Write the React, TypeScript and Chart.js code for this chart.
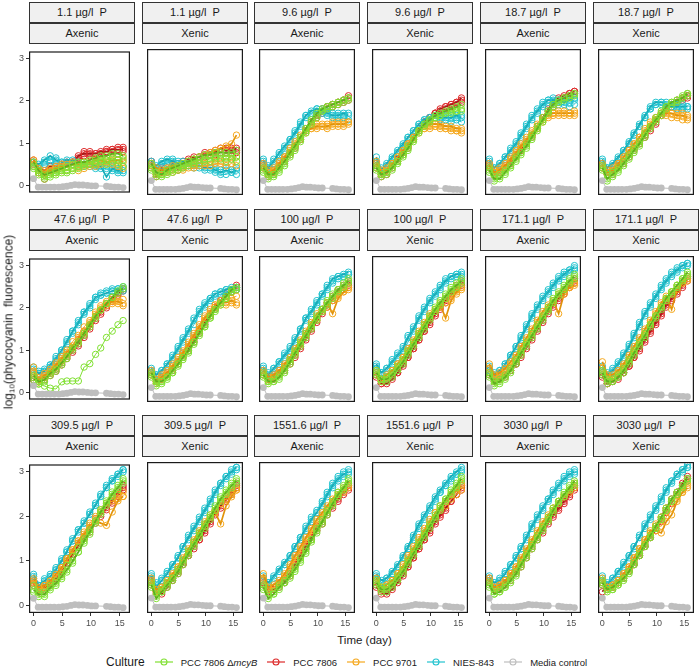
import { useEffect, useRef } from 'react';
import Chart from 'chart.js/auto';

// sampling days of the culture series, and of the media control
const days = [0, 0.9, 1.9, 2.9, 3.9, 4.9, 5.8, 6.8, 7.8, 8.8, 9.8, 10.8, 11.7, 12.7, 13.7, 14.7, 15.6];
const mediaDays = [0, 0.8, 1.5, 2.2, 2.9, 3.6, 4.4, 5.1, 5.8, 6.5, 7.2, 7.9, 8.6, 9.4, 10.1, 10.8, 12.7, 13.4, 14.1, 14.8, 15.6];
const mediaValues = [0.16, -0.04, -0.04, -0.04, -0.04, -0.04, -0.04, -0.03, -0.02, 0.0, 0.02, 0.01, 0.01, 0.0, -0.01, -0.01, -0.02, -0.03, -0.04, -0.04, -0.05];

const tickDays = [0, 5, 10, 15];
const tickLogs = [0, 1, 2, 3];

const phosphorus = ['1.1', '1.1', '9.6', '9.6', '18.7', '18.7', '47.6', '47.6', '100', '100', '171.1', '171.1', '309.5', '309.5', '1551.6', '1551.6', '3030', '3030'];
const treatment = ['Axenic', 'Xenic'];

const cultures = ['PCC 7806 ΔmcyB', 'PCC 7806', 'PCC 9701', 'NIES-843', 'Media control'];
const cultureColors = ['#80E032', '#DD2A2A', '#F5A81E', '#23C3CF', '#BEBEBE'];
const cultureDark = ['#5CB01E', '#A81818', '#E0920A', '#17A9B5', '#BEBEBE'];

// replicate series per panel (green = ΔmcyB, red = PCC 7806, orange = PCC 9701, cyan = NIES-843)
const p01Green = [[0.55,0.35,0.25,0.3,0.35,0.4,0.45,0.5,0.55,0.55,0.6,0.65,0.7,0.7,0.75,0.75,0.7],[0.45,0.3,0.2,0.25,0.3,0.35,0.35,0.4,0.45,0.5,0.5,0.55,0.6,0.6,0.65,0.6,0.6],[0.4,0.25,0.15,0.2,0.25,0.3,0.3,0.35,0.4,0.45,0.5,0.5,0.55,0.5,0.55,0.5,0.45]];
const p01Red = [[0.6,0.4,0.35,0.45,0.45,0.5,0.5,0.55,0.7,0.75,0.75,0.75,0.8,0.8,0.85,0.85,0.85],[0.55,0.3,0.15,0.35,0.4,0.45,0.5,0.55,0.65,0.8,0.8,0.75,0.75,0.85,0.85,0.9,0.9],[0.5,0.35,0.3,0.4,0.45,0.5,0.55,0.55,0.6,0.7,0.7,0.7,0.75,0.8,0.8,0.75,0.8]];
const p01Orange = [[0.6,0.4,0.3,0.35,0.4,0.45,0.45,0.5,0.5,0.55,0.55,0.6,0.6,0.55,0.6,0.6,0.55],[0.5,0.35,0.25,0.3,0.3,0.35,0.35,0.4,0.35,0.4,0.45,0.45,0.5,0.5,0.5,0.45,0.4],[0.45,0.3,0.35,0.4,0.45,0.5,0.5,0.55,0.45,0.5,0.5,0.5,0.55,0.6,0.65,0.6,0.65]];
const p01Cyan = [[0.55,0.5,0.6,0.7,0.6,0.55,0.6,0.6,0.55,0.5,0.5,0.45,0.45,0.2,0.4,0.35,0.35],[0.5,0.45,0.55,0.6,0.65,0.55,0.5,0.55,0.5,0.45,0.45,0.4,0.4,0.4,0.35,0.3,0.3],[0.45,0.4,0.5,0.55,0.5,0.5,0.55,0.5,0.45,0.5,0.5,0.5,0.5,0.45,0.45,0.4,0.45]];

const p02Green = [[0.55,0.35,0.3,0.4,0.45,0.5,0.55,0.6,0.65,0.7,0.75,0.75,0.8,0.8,0.8,0.8,0.85],[0.45,0.3,0.25,0.35,0.4,0.45,0.5,0.55,0.6,0.65,0.65,0.7,0.7,0.75,0.7,0.75,0.7],[0.4,0.25,0.3,0.3,0.35,0.4,0.45,0.5,0.55,0.55,0.6,0.6,0.65,0.65,0.6,0.65,0.6]];
const p02Red = [[0.6,0.25,0.45,0.35,0.55,0.4,0.6,0.65,0.7,0.7,0.75,0.8,0.8,0.9,0.85,0.85,0.9],[0.55,0.3,0.35,0.45,0.45,0.5,0.55,0.6,0.65,0.7,0.8,0.75,0.85,0.8,0.9,0.9,0.85],[0.5,0.35,0.4,0.4,0.5,0.55,0.5,0.6,0.6,0.65,0.7,0.75,0.75,0.8,0.8,0.8,0.8]];
const p02Orange = [[0.55,0.45,0.4,0.45,0.5,0.5,0.55,0.6,0.65,0.7,0.75,0.8,0.85,0.9,0.95,1.0,1.2],[0.5,0.35,0.35,0.4,0.4,0.45,0.45,0.5,0.5,0.55,0.55,0.6,0.6,0.6,0.65,0.65,0.7],[0.45,0.3,0.3,0.35,0.35,0.4,0.4,0.45,0.45,0.5,0.5,0.5,0.55,0.55,0.5,0.55,0.5]];
const p02Cyan = [[0.6,0.5,0.6,0.65,0.6,0.55,0.6,0.55,0.5,0.5,0.45,0.45,0.4,0.35,0.4,0.35,0.4],[0.5,0.45,0.55,0.55,0.65,0.6,0.55,0.5,0.55,0.45,0.4,0.4,0.35,0.3,0.3,0.35,0.3],[0.55,0.4,0.5,0.6,0.55,0.5,0.5,0.5,0.45,0.5,0.5,0.45,0.45,0.4,0.45,0.4,0.45]];

const p03Green = [[0.45,0.3,0.3,0.45,0.6,0.8,0.95,1.15,1.35,1.55,1.7,1.8,1.85,1.9,1.95,2.0,2.05],[0.35,0.2,0.25,0.35,0.5,0.7,0.9,1.1,1.3,1.5,1.65,1.75,1.85,1.9,1.95,2.0,2.05],[0.4,0.25,0.3,0.4,0.55,0.75,0.85,1.05,1.25,1.45,1.6,1.75,1.8,1.85,1.9,1.95,2.0]];
const p03Red = [[0.5,0.3,0.35,0.5,0.65,0.8,0.95,1.15,1.35,1.5,1.65,1.75,1.85,1.9,1.95,2.0,2.05],[0.45,0.25,0.3,0.45,0.6,0.75,0.9,1.1,1.3,1.5,1.65,1.8,1.85,1.9,1.95,2.0,2.1],[0.55,0.35,0.4,0.5,0.6,0.8,0.95,1.1,1.3,1.45,1.6,1.7,1.8,1.85,1.9,1.95,2.0]];
const p03Orange = [[0.5,0.35,0.4,0.55,0.7,0.85,1.0,1.15,1.3,1.35,1.4,1.4,1.4,1.45,1.45,1.45,1.5],[0.45,0.3,0.35,0.5,0.65,0.8,0.95,1.1,1.25,1.35,1.35,1.4,1.35,1.4,1.4,1.4,1.45],[0.55,0.4,0.45,0.6,0.7,0.9,1.05,1.2,1.35,1.4,1.45,1.45,1.45,1.5,1.5,1.5,1.5]];
const p03Cyan = [[0.6,0.45,0.6,0.8,0.95,1.1,1.25,1.45,1.65,1.75,1.8,1.75,1.7,1.65,1.65,1.7,1.65],[0.55,0.4,0.55,0.7,0.85,1.05,1.2,1.4,1.6,1.7,1.75,1.7,1.65,1.6,1.6,1.6,1.55],[0.65,0.5,0.65,0.75,0.9,1.1,1.3,1.5,1.65,1.7,1.8,1.8,1.75,1.7,1.7,1.65,1.7]];

const p04Green = [[0.45,0.3,0.35,0.45,0.6,0.75,0.9,1.1,1.3,1.45,1.55,1.65,1.7,1.75,1.8,1.85,1.9],[0.4,0.25,0.3,0.4,0.55,0.7,0.85,1.05,1.25,1.4,1.5,1.6,1.65,1.7,1.75,1.75,1.8],[0.5,0.3,0.35,0.5,0.6,0.75,0.95,1.1,1.3,1.45,1.55,1.6,1.65,1.7,1.7,1.75,1.75]];
const p04Red = [[0.5,0.3,0.35,0.5,0.65,0.8,0.95,1.15,1.35,1.5,1.6,1.7,1.8,1.85,1.9,1.95,2.05],[0.45,0.25,0.3,0.45,0.6,0.75,0.9,1.1,1.3,1.45,1.6,1.7,1.75,1.85,1.9,1.95,2.0],[0.55,0.35,0.4,0.5,0.65,0.8,1.0,1.15,1.35,1.5,1.6,1.7,1.75,1.8,1.85,1.9,1.95]];
const p04Orange = [[0.55,0.35,0.4,0.55,0.7,0.85,1.0,1.15,1.3,1.4,1.45,1.45,1.45,1.4,1.4,1.35,1.35],[0.45,0.3,0.35,0.5,0.6,0.8,0.95,1.1,1.25,1.35,1.35,1.4,1.35,1.35,1.3,1.3,1.25],[0.6,0.4,0.45,0.55,0.7,0.85,1.0,1.15,1.3,1.35,1.4,1.4,1.4,1.35,1.35,1.3,1.3]];
const p04Cyan = [[0.7,0.4,0.55,0.7,0.85,1.0,1.15,1.3,1.45,1.55,1.6,1.65,1.6,1.6,1.6,1.65,1.6],[0.6,0.35,0.5,0.65,0.8,0.95,1.1,1.25,1.4,1.5,1.55,1.6,1.55,1.55,1.5,1.55,1.5],[0.55,0.45,0.5,0.65,0.8,0.95,1.15,1.3,1.45,1.55,1.6,1.6,1.65,1.65,1.65,1.6,1.65]];

const p05Green = [[0.4,0.2,0.2,0.35,0.5,0.65,0.8,0.95,1.15,1.35,1.55,1.75,1.9,2.0,2.05,2.1,2.15],[0.35,0.15,0.25,0.3,0.45,0.6,0.75,0.9,1.1,1.3,1.5,1.7,1.85,1.95,2.05,2.1,2.15],[0.45,0.25,0.3,0.4,0.5,0.7,0.8,1.0,1.2,1.4,1.6,1.75,1.9,1.95,2.0,2.05,2.1]];
const p05Red = [[0.55,0.35,0.4,0.5,0.6,0.75,0.9,1.05,1.2,1.4,1.6,1.8,1.95,2.05,2.1,2.15,2.2],[0.5,0.3,0.35,0.45,0.55,0.7,0.85,1.0,1.15,1.35,1.55,1.75,1.9,2.0,2.05,2.15,2.2],[0.45,0.3,0.35,0.45,0.6,0.75,0.85,1.0,1.2,1.4,1.6,1.75,1.85,1.95,2.05,2.1,2.15]];
const p05Orange = [[0.5,0.35,0.4,0.5,0.65,0.8,0.95,1.1,1.25,1.4,1.55,1.65,1.7,1.7,1.7,1.7,1.7],[0.45,0.3,0.35,0.45,0.6,0.75,0.9,1.05,1.2,1.35,1.5,1.6,1.65,1.65,1.65,1.65,1.65],[0.55,0.4,0.45,0.55,0.7,0.85,1.0,1.15,1.3,1.45,1.6,1.7,1.7,1.75,1.75,1.7,1.75]];
const p05Cyan = [[0.6,0.45,0.55,0.7,0.85,1.0,1.2,1.4,1.6,1.75,1.9,2.0,2.0,2.0,1.95,2.0,2.05],[0.55,0.4,0.5,0.65,0.8,0.95,1.15,1.35,1.55,1.7,1.85,1.95,1.95,1.9,1.9,1.85,1.9],[0.65,0.45,0.55,0.7,0.9,1.05,1.25,1.45,1.65,1.8,1.95,2.0,2.05,2.0,2.0,1.95,2.0]];

const p06Green = [[0.45,0.2,0.3,0.4,0.55,0.7,0.85,1.0,1.2,1.4,1.55,1.7,1.85,1.95,2.0,2.05,2.15],[0.4,0.15,0.25,0.35,0.5,0.65,0.8,0.95,1.15,1.35,1.5,1.65,1.8,1.9,1.95,2.05,2.1],[0.5,0.3,0.35,0.45,0.6,0.75,0.9,1.05,1.25,1.4,1.6,1.75,1.85,1.95,2.0,2.1,2.15]];
const p06Red = [[0.55,0.35,0.35,0.5,0.6,0.75,0.9,1.05,1.2,1.35,1.5,1.65,1.8,1.9,1.95,2.05,2.1],[0.5,0.3,0.3,0.45,0.55,0.7,0.85,1.0,1.15,1.3,1.45,1.65,1.75,1.85,1.95,2.0,2.1],[0.45,0.35,0.4,0.5,0.6,0.75,0.9,1.05,1.2,1.4,1.55,1.7,1.8,1.9,2.0,2.05,2.05]];
const p06Orange = [[0.5,0.35,0.4,0.55,0.7,0.85,1.0,1.15,1.3,1.45,1.6,1.7,1.7,1.7,1.65,1.65,1.6],[0.45,0.3,0.35,0.5,0.65,0.8,0.95,1.1,1.25,1.4,1.55,1.65,1.65,1.6,1.6,1.55,1.55],[0.55,0.4,0.45,0.55,0.7,0.85,1.0,1.15,1.35,1.5,1.6,1.7,1.75,1.7,1.7,1.7,1.65]];
const p06Cyan = [[0.65,0.45,0.55,0.7,0.85,1.05,1.25,1.45,1.65,1.85,1.95,1.95,1.9,1.85,1.85,1.85,1.85],[0.6,0.4,0.5,0.65,0.8,1.0,1.2,1.4,1.6,1.8,1.9,1.9,1.85,1.85,1.8,1.8,1.8],[0.55,0.45,0.5,0.65,0.85,1.0,1.2,1.4,1.6,1.8,1.9,1.95,1.95,1.9,1.9,1.9,1.85]];

const p07Green = [[0.4,0.25,0.3,0.45,0.55,0.7,0.85,1.05,1.2,1.4,1.6,1.8,1.95,2.1,2.25,2.4,2.45],[0.35,0.2,0.25,0.4,0.5,0.65,0.8,1.0,1.15,1.35,1.55,1.75,1.95,2.1,2.25,2.35,2.5],[0.3,0.2,0.15,0.1,0.08,0.25,0.27,0.27,0.27,0.6,0.68,0.9,1.05,1.3,1.45,1.6,1.7]];
const p07Red = [[0.3,0.3,0.35,0.45,0.55,0.7,0.85,1.0,1.15,1.35,1.55,1.75,1.9,2.05,2.2,2.35,2.45],[0.35,0.25,0.3,0.4,0.5,0.65,0.8,0.95,1.1,1.3,1.5,1.7,1.85,2.0,2.15,2.3,2.4],[0.4,0.35,0.4,0.5,0.6,0.75,0.9,1.05,1.25,1.45,1.6,1.8,1.95,2.1,2.25,2.35,2.45]];
const p07Orange = [[0.45,0.3,0.4,0.5,0.65,0.8,0.95,1.1,1.3,1.45,1.65,1.85,2.0,2.1,2.15,2.15,2.1],[0.5,0.25,0.35,0.45,0.6,0.75,0.9,1.05,1.2,1.4,1.6,1.8,1.95,2.05,2.1,2.1,2.05],[0.6,0.35,0.45,0.55,0.7,0.85,1.0,1.2,1.35,1.55,1.7,1.9,2.05,2.15,2.2,2.2,2.2]];
const p07Cyan = [[0.55,0.45,0.5,0.65,0.8,1.0,1.2,1.45,1.65,1.9,2.05,2.25,2.3,2.35,2.4,2.45,2.45],[0.5,0.45,0.5,0.6,0.75,0.95,1.15,1.4,1.6,1.85,2.0,2.2,2.3,2.35,2.4,2.4,2.4],[0.6,0.5,0.55,0.65,0.85,1.0,1.25,1.45,1.7,1.9,2.1,2.25,2.35,2.4,2.45,2.45,2.5]];

const p08Green = [[0.5,0.3,0.3,0.4,0.55,0.7,0.85,1.0,1.2,1.4,1.6,1.8,1.95,2.1,2.25,2.4,2.45],[0.45,0.2,0.25,0.35,0.5,0.65,0.8,0.95,1.15,1.35,1.55,1.75,1.9,2.05,2.2,2.35,2.45],[0.4,0.25,0.3,0.4,0.5,0.7,0.85,1.0,1.2,1.4,1.55,1.75,1.95,2.1,2.2,2.35,2.4]];
const p08Red = [[0.45,0.35,0.4,0.5,0.6,0.75,0.9,1.05,1.25,1.45,1.65,1.85,2.0,2.15,2.3,2.4,2.5],[0.5,0.3,0.35,0.45,0.55,0.7,0.85,1.0,1.2,1.4,1.6,1.8,1.95,2.1,2.25,2.35,2.45],[0.55,0.35,0.4,0.5,0.6,0.75,0.95,1.1,1.3,1.5,1.7,1.85,2.0,2.15,2.25,2.35,2.4]];
const p08Orange = [[0.5,0.3,0.4,0.5,0.65,0.8,0.95,1.15,1.35,1.55,1.75,1.9,2.05,2.1,2.1,2.15,2.1],[0.45,0.25,0.35,0.45,0.6,0.75,0.9,1.1,1.3,1.5,1.7,1.85,2.0,2.05,2.05,2.1,2.05],[0.55,0.35,0.45,0.55,0.7,0.85,1.0,1.2,1.4,1.6,1.8,1.95,2.05,2.15,2.2,2.2,2.25]];
const p08Cyan = [[0.6,0.45,0.55,0.7,0.85,1.05,1.25,1.45,1.7,1.9,2.05,2.2,2.3,2.35,2.4,2.45,2.45],[0.55,0.4,0.5,0.65,0.8,1.0,1.2,1.4,1.6,1.85,2.0,2.15,2.25,2.3,2.35,2.4,2.4],[0.5,0.45,0.55,0.7,0.9,1.1,1.3,1.5,1.75,1.95,2.1,2.2,2.3,2.35,2.4,2.4,2.45]];

const p09Green = [[0.45,0.3,0.3,0.4,0.55,0.75,0.95,1.15,1.35,1.55,1.75,1.95,2.1,2.25,2.4,2.5,2.6],[0.4,0.25,0.3,0.35,0.5,0.7,0.9,1.1,1.3,1.5,1.7,1.9,2.05,2.2,2.35,2.45,2.55],[0.5,0.3,0.35,0.45,0.6,0.8,1.0,1.2,1.4,1.6,1.8,1.95,2.15,2.3,2.4,2.55,2.65]];
const p09Red = [[0.5,0.35,0.4,0.5,0.6,0.75,0.9,1.1,1.3,1.5,1.7,1.9,2.05,2.2,2.35,2.45,2.55],[0.45,0.35,0.35,0.45,0.55,0.7,0.85,1.05,1.25,1.45,1.65,1.85,2.0,2.15,2.3,2.4,2.5],[0.55,0.4,0.45,0.55,0.65,0.8,0.95,1.15,1.35,1.55,1.75,1.95,2.1,2.25,2.4,2.5,2.6]];
const p09Orange = [[0.55,0.4,0.45,0.55,0.7,0.85,1.05,1.25,1.45,1.65,1.85,1.95,2.1,1.85,2.2,2.35,2.4],[0.5,0.35,0.4,0.5,0.65,0.8,1.0,1.2,1.4,1.6,1.75,1.95,2.1,2.2,2.3,2.4,2.45],[0.45,0.3,0.4,0.5,0.65,0.8,0.95,1.15,1.35,1.55,1.7,1.9,2.0,2.15,2.25,2.35,2.45]];
const p09Cyan = [[0.6,0.45,0.6,0.75,0.9,1.05,1.25,1.5,1.75,1.9,2.1,2.3,2.45,2.65,2.7,2.75,2.8],[0.55,0.4,0.55,0.7,0.85,1.0,1.2,1.45,1.7,1.85,2.05,2.25,2.4,2.55,2.65,2.7,2.75],[0.65,0.5,0.6,0.75,0.95,1.1,1.3,1.5,1.75,1.95,2.15,2.3,2.5,2.6,2.7,2.7,2.75]];

const p10Green = [[0.5,0.35,0.35,0.45,0.6,0.75,0.95,1.15,1.35,1.55,1.75,1.95,2.1,2.25,2.4,2.5,2.6],[0.45,0.3,0.3,0.4,0.55,0.7,0.9,1.1,1.3,1.5,1.7,1.9,2.05,2.2,2.35,2.45,2.55],[0.55,0.35,0.4,0.5,0.65,0.8,1.0,1.2,1.4,1.6,1.8,2.0,2.15,2.3,2.45,2.55,2.65]];
const p10Red = [[0.45,0.25,0.25,0.35,0.5,0.65,0.85,1.05,1.25,1.45,1.65,1.85,2.0,2.15,2.3,2.45,2.55],[0.4,0.25,0.3,0.4,0.5,0.7,0.85,1.05,1.25,1.45,1.6,1.8,1.95,2.1,2.25,2.4,2.5],[0.5,0.3,0.35,0.45,0.55,0.75,0.9,1.1,1.3,1.5,1.7,1.9,2.05,2.2,2.35,2.5,2.6]];
const p10Orange = [[0.5,0.35,0.45,0.55,0.7,0.85,1.05,1.25,1.45,1.65,1.85,1.95,2.05,1.75,2.15,2.35,2.45],[0.45,0.3,0.4,0.5,0.65,0.8,1.0,1.2,1.4,1.6,1.8,1.95,2.1,2.2,2.3,2.4,2.45],[0.55,0.35,0.4,0.55,0.7,0.85,1.0,1.2,1.4,1.6,1.75,1.9,2.0,2.1,2.2,2.3,2.4]];
const p10Cyan = [[0.7,0.5,0.6,0.75,0.9,1.05,1.3,1.5,1.75,1.95,2.15,2.3,2.45,2.6,2.7,2.75,2.75],[0.6,0.45,0.55,0.7,0.85,1.0,1.2,1.45,1.7,1.9,2.1,2.25,2.4,2.55,2.65,2.7,2.7],[0.65,0.5,0.6,0.8,0.95,1.1,1.35,1.55,1.8,2.0,2.2,2.35,2.5,2.65,2.7,2.75,2.8]];

const p11Green = [[0.45,0.25,0.3,0.4,0.55,0.75,0.95,1.15,1.35,1.55,1.75,1.95,2.15,2.3,2.45,2.6,2.7],[0.4,0.2,0.25,0.35,0.5,0.7,0.9,1.1,1.3,1.5,1.7,1.9,2.1,2.25,2.4,2.55,2.65],[0.5,0.3,0.35,0.45,0.6,0.8,1.0,1.2,1.4,1.6,1.8,2.0,2.2,2.35,2.5,2.65,2.75]];
const p11Red = [[0.45,0.35,0.35,0.45,0.55,0.7,0.9,1.1,1.3,1.5,1.7,1.9,2.05,2.2,2.35,2.5,2.6],[0.5,0.3,0.35,0.4,0.55,0.7,0.85,1.05,1.25,1.45,1.65,1.85,2.0,2.15,2.3,2.45,2.55],[0.55,0.4,0.4,0.5,0.6,0.75,0.95,1.15,1.35,1.55,1.75,1.95,2.1,2.25,2.4,2.55,2.65]];
const p11Orange = [[0.7,0.45,0.5,0.6,0.75,0.9,1.1,1.3,1.5,1.7,1.9,2.05,2.15,1.85,2.3,2.45,2.5],[0.6,0.4,0.45,0.55,0.7,0.85,1.05,1.25,1.45,1.65,1.85,2.0,2.15,2.3,2.4,2.5,2.55],[0.5,0.35,0.4,0.5,0.65,0.85,1.0,1.2,1.4,1.6,1.8,1.95,2.1,2.25,2.35,2.45,2.55]];
const p11Cyan = [[0.6,0.45,0.55,0.7,0.9,1.1,1.3,1.55,1.8,2.0,2.2,2.35,2.5,2.65,2.75,2.85,2.9],[0.55,0.4,0.5,0.65,0.85,1.05,1.25,1.5,1.75,1.95,2.15,2.3,2.45,2.6,2.7,2.8,2.85],[0.65,0.5,0.55,0.7,0.9,1.1,1.35,1.6,1.85,2.05,2.25,2.4,2.55,2.7,2.8,2.85,2.95]];

const p12Green = [[0.5,0.3,0.3,0.4,0.55,0.75,0.95,1.15,1.35,1.6,1.8,2.0,2.2,2.35,2.5,2.65,2.8],[0.45,0.25,0.3,0.4,0.5,0.7,0.9,1.1,1.3,1.55,1.75,1.95,2.15,2.3,2.45,2.6,2.75],[0.55,0.35,0.35,0.45,0.6,0.8,1.0,1.2,1.4,1.6,1.8,2.0,2.2,2.35,2.5,2.65,2.7]];
const p12Red = [[0.45,0.25,0.3,0.4,0.5,0.65,0.85,1.05,1.25,1.45,1.65,1.85,2.05,2.2,2.35,2.5,2.65],[0.5,0.3,0.35,0.45,0.55,0.7,0.9,1.1,1.3,1.5,1.7,1.9,2.1,2.25,2.4,2.55,2.7],[0.4,0.25,0.3,0.35,0.5,0.65,0.85,1.0,1.2,1.4,1.6,1.8,2.0,2.15,2.3,2.45,2.6]];
const p12Orange = [[0.75,0.45,0.45,0.55,0.7,0.9,1.1,1.3,1.5,1.7,1.9,2.1,2.25,1.95,2.4,2.55,2.65],[0.6,0.4,0.4,0.5,0.65,0.85,1.05,1.25,1.45,1.65,1.85,2.05,2.2,2.35,2.5,2.6,2.7],[0.55,0.35,0.4,0.5,0.65,0.8,1.0,1.2,1.4,1.6,1.8,2.0,2.15,2.3,2.45,2.55,2.6]];
const p12Cyan = [[0.6,0.45,0.55,0.7,0.9,1.1,1.35,1.6,1.85,2.05,2.25,2.45,2.6,2.75,2.85,2.95,3.0],[0.55,0.4,0.5,0.65,0.85,1.05,1.3,1.55,1.8,2.0,2.2,2.4,2.55,2.7,2.8,2.9,2.95],[0.65,0.5,0.6,0.75,0.95,1.15,1.4,1.65,1.9,2.1,2.3,2.5,2.65,2.8,2.9,2.95,3.0]];

const p13Green = [[0.35,0.25,0.25,0.4,0.5,0.65,0.8,1.0,1.2,1.45,1.65,1.9,2.1,2.3,2.5,2.65,2.8],[0.3,0.2,0.2,0.35,0.45,0.6,0.75,0.95,1.2,1.4,1.6,1.85,2.05,2.25,2.45,2.6,2.75],[0.45,0.3,0.3,0.45,0.55,0.7,0.9,1.1,1.3,1.5,1.7,1.9,2.15,2.35,2.55,2.7,2.85]];
const p13Red = [[0.5,0.35,0.4,0.5,0.6,0.75,0.95,1.15,1.35,1.5,1.7,1.9,2.05,2.2,2.35,2.5,2.65],[0.45,0.3,0.35,0.45,0.55,0.7,0.9,1.1,1.3,1.5,1.65,1.85,2.0,2.15,2.3,2.45,2.6],[0.55,0.35,0.4,0.5,0.65,0.8,1.0,1.2,1.4,1.55,1.75,1.95,2.1,2.25,2.4,2.55,2.7]];
const p13Orange = [[0.6,0.4,0.45,0.55,0.7,0.85,1.05,1.25,1.45,1.6,1.8,1.9,1.85,1.8,2.1,2.35,2.45],[0.55,0.35,0.4,0.55,0.65,0.85,1.05,1.25,1.45,1.65,1.85,2.0,2.15,2.3,2.4,2.5,2.55],[0.5,0.35,0.45,0.5,0.65,0.8,1.0,1.2,1.4,1.55,1.75,1.95,2.1,2.25,2.35,2.4,2.45]];
const p13Cyan = [[0.7,0.45,0.55,0.65,0.8,1.0,1.2,1.45,1.7,1.85,2.05,2.25,2.45,2.65,2.8,2.95,3.05],[0.65,0.4,0.55,0.65,0.8,1.0,1.2,1.45,1.65,1.85,2.05,2.25,2.45,2.65,2.8,2.9,3.0],[0.6,0.45,0.6,0.7,0.85,1.05,1.25,1.5,1.7,1.9,2.1,2.3,2.5,2.7,2.85,2.95,3.05]];

const p14Green = [[0.45,0.15,0.3,0.45,0.6,0.75,0.95,1.15,1.35,1.55,1.75,1.95,2.15,2.35,2.5,2.65,2.75],[0.4,0.2,0.3,0.4,0.55,0.7,0.9,1.1,1.3,1.5,1.7,1.9,2.1,2.3,2.45,2.6,2.7],[0.5,0.25,0.35,0.5,0.6,0.8,1.0,1.2,1.4,1.6,1.8,2.0,2.2,2.4,2.55,2.7,2.8]];
const p14Red = [[0.5,0.3,0.25,0.4,0.55,0.7,0.9,1.1,1.3,1.45,1.65,1.85,2.05,2.2,2.35,2.5,2.65],[0.45,0.25,0.3,0.45,0.6,0.75,0.9,1.1,1.25,1.45,1.6,1.8,2.0,2.15,2.3,2.45,2.6],[0.55,0.35,0.35,0.5,0.6,0.8,0.95,1.15,1.35,1.55,1.7,1.9,2.1,2.25,2.4,2.55,2.7]];
const p14Orange = [[0.6,0.35,0.4,0.55,0.7,0.85,1.05,1.25,1.45,1.65,1.85,2.0,2.05,1.8,2.2,2.4,2.55],[0.55,0.3,0.4,0.5,0.65,0.8,1.0,1.2,1.4,1.6,1.8,1.95,2.1,2.25,2.4,2.5,2.6],[0.5,0.3,0.35,0.5,0.65,0.85,1.0,1.2,1.4,1.6,1.75,1.95,2.1,2.25,2.35,2.45,2.55]];
const p14Cyan = [[0.65,0.4,0.55,0.7,0.9,1.05,1.3,1.5,1.7,1.9,2.1,2.3,2.5,2.7,2.85,2.95,3.05],[0.6,0.45,0.55,0.7,0.85,1.05,1.25,1.45,1.65,1.85,2.05,2.25,2.45,2.65,2.8,2.9,3.0],[0.7,0.5,0.6,0.75,0.9,1.1,1.3,1.55,1.75,1.95,2.15,2.35,2.55,2.7,2.85,3.0,3.05]];

const p15Green = [[0.4,0.15,0.25,0.4,0.5,0.65,0.8,1.0,1.2,1.45,1.65,1.85,2.05,2.25,2.45,2.6,2.75],[0.45,0.25,0.3,0.45,0.55,0.7,0.85,1.05,1.25,1.45,1.7,1.9,2.1,2.3,2.5,2.65,2.8],[0.35,0.2,0.25,0.35,0.5,0.6,0.75,0.95,1.15,1.4,1.6,1.8,2.0,2.2,2.4,2.55,2.7]];
const p15Red = [[0.5,0.35,0.35,0.45,0.55,0.7,0.9,1.1,1.3,1.5,1.7,1.85,2.05,2.2,2.35,2.5,2.6],[0.45,0.3,0.35,0.4,0.5,0.65,0.85,1.05,1.25,1.45,1.65,1.8,2.0,2.15,2.3,2.45,2.55],[0.55,0.35,0.4,0.5,0.6,0.75,0.95,1.15,1.35,1.55,1.75,1.9,2.1,2.25,2.4,2.55,2.65]];
const p15Orange = [[0.7,0.4,0.45,0.55,0.7,0.9,1.1,1.3,1.5,1.7,1.9,2.05,2.2,2.35,2.5,2.6,2.7],[0.6,0.35,0.4,0.5,0.65,0.85,1.05,1.25,1.45,1.65,1.85,2.0,2.15,2.3,2.45,2.55,2.65],[0.55,0.35,0.4,0.5,0.65,0.8,1.0,1.2,1.4,1.6,1.8,1.95,2.1,2.25,2.4,2.5,2.6]];
const p15Cyan = [[0.6,0.5,0.65,0.8,0.95,1.1,1.3,1.5,1.7,1.9,2.05,2.25,2.45,2.65,2.8,2.9,2.95],[0.55,0.45,0.6,0.75,0.9,1.05,1.25,1.45,1.65,1.85,2.05,2.2,2.4,2.6,2.75,2.85,2.9],[0.65,0.5,0.6,0.75,0.9,1.1,1.3,1.5,1.75,1.95,2.1,2.3,2.5,2.7,2.85,2.95,3.0]];

const p16Green = [[0.5,0.35,0.35,0.45,0.6,0.75,0.95,1.15,1.35,1.55,1.75,1.95,2.15,2.35,2.5,2.65,2.8],[0.45,0.3,0.3,0.4,0.55,0.7,0.9,1.1,1.3,1.5,1.7,1.9,2.1,2.3,2.45,2.6,2.75],[0.55,0.4,0.4,0.5,0.65,0.8,1.0,1.2,1.4,1.6,1.8,2.0,2.2,2.35,2.55,2.7,2.85]];
const p16Red = [[0.4,0.3,0.25,0.35,0.5,0.65,0.85,1.05,1.25,1.45,1.65,1.85,2.0,2.15,2.3,2.45,2.6],[0.45,0.25,0.3,0.4,0.55,0.7,0.85,1.05,1.25,1.45,1.6,1.8,1.95,2.1,2.3,2.45,2.55],[0.5,0.35,0.35,0.45,0.6,0.75,0.9,1.1,1.3,1.5,1.7,1.9,2.05,2.25,2.4,2.55,2.65]];
const p16Orange = [[0.6,0.4,0.45,0.55,0.7,0.85,1.05,1.25,1.45,1.65,1.85,2.05,2.2,2.3,2.45,2.55,2.65],[0.55,0.35,0.4,0.5,0.65,0.8,1.0,1.2,1.4,1.6,1.8,1.95,2.1,2.2,2.35,2.45,2.55],[0.5,0.4,0.45,0.55,0.7,0.9,1.1,1.3,1.5,1.7,1.9,2.05,2.15,2.3,2.45,2.6,2.7]];
const p16Cyan = [[0.7,0.55,0.6,0.75,0.9,1.1,1.3,1.55,1.8,2.0,2.2,2.4,2.55,2.7,2.85,2.95,3.05],[0.65,0.5,0.6,0.7,0.85,1.05,1.25,1.5,1.75,1.95,2.15,2.35,2.5,2.65,2.8,2.9,3.0],[0.6,0.5,0.55,0.7,0.85,1.05,1.25,1.45,1.7,1.9,2.1,2.3,2.5,2.65,2.75,2.9,2.95]];

const p17Green = [[0.45,0.25,0.3,0.4,0.55,0.7,0.9,1.1,1.3,1.5,1.7,1.9,2.1,2.3,2.45,2.6,2.75],[0.5,0.3,0.35,0.45,0.6,0.75,0.95,1.15,1.35,1.55,1.75,1.95,2.15,2.3,2.5,2.65,2.7],[0.4,0.25,0.3,0.4,0.5,0.65,0.85,1.05,1.25,1.45,1.65,1.85,2.05,2.25,2.4,2.55,2.65]];
const p17Red = [[0.55,0.4,0.4,0.5,0.6,0.75,0.9,1.1,1.3,1.5,1.65,1.85,2.0,2.15,2.3,2.45,2.6],[0.5,0.35,0.35,0.45,0.55,0.7,0.85,1.05,1.25,1.45,1.6,1.8,1.95,2.1,2.25,2.4,2.55],[0.6,0.4,0.45,0.5,0.65,0.8,0.95,1.15,1.35,1.55,1.7,1.9,2.05,2.2,2.35,2.5,2.65]];
const p17Orange = [[0.55,0.4,0.45,0.55,0.7,0.85,1.05,1.25,1.45,1.65,1.85,2.0,2.15,2.3,2.45,2.55,2.7],[0.5,0.35,0.4,0.5,0.65,0.8,1.0,1.2,1.4,1.55,1.75,1.9,2.1,2.25,2.4,2.5,2.6],[0.6,0.4,0.45,0.55,0.7,0.85,1.0,1.2,1.4,1.6,1.8,1.95,2.15,2.3,2.4,2.55,2.65]];
const p17Cyan = [[0.6,0.5,0.55,0.7,0.9,1.05,1.25,1.5,1.75,1.95,2.15,2.35,2.5,2.65,2.8,2.9,2.95],[0.55,0.45,0.55,0.7,0.85,1.05,1.25,1.45,1.7,1.9,2.1,2.3,2.45,2.6,2.75,2.85,2.9],[0.65,0.5,0.6,0.75,0.9,1.1,1.3,1.55,1.8,2.0,2.2,2.35,2.55,2.7,2.85,2.95,3.0]];

const p18Green = [[0.5,0.35,0.4,0.5,0.6,0.75,0.95,1.15,1.35,1.55,1.75,1.95,2.15,2.35,2.5,2.65,2.8],[0.55,0.35,0.35,0.45,0.6,0.75,0.9,1.1,1.3,1.5,1.7,1.9,2.1,2.3,2.45,2.6,2.75],[0.45,0.3,0.35,0.45,0.55,0.7,0.9,1.1,1.3,1.5,1.7,1.9,2.1,2.3,2.5,2.65,2.8]];
const p18Red = [[0.3,0.45,0.4,0.5,0.6,0.75,0.9,1.1,1.3,1.5,1.7,1.9,2.1,2.3,2.5,2.7,2.85],[0.45,0.35,0.4,0.5,0.6,0.75,0.9,1.1,1.3,1.5,1.65,1.85,2.05,2.25,2.45,2.6,2.75],[0.5,0.4,0.45,0.5,0.65,0.8,0.95,1.15,1.35,1.55,1.75,1.95,2.15,2.35,2.5,2.65,2.8]];
const p18Orange = [[0.55,0.4,0.45,0.55,0.7,0.85,1.05,1.25,1.45,1.65,1.65,1.6,1.85,2.0,2.3,2.5,2.6],[0.5,0.35,0.4,0.5,0.65,0.8,1.0,1.2,1.4,1.6,1.75,1.75,1.95,2.15,2.35,2.5,2.65],[0.6,0.4,0.45,0.55,0.7,0.85,1.05,1.25,1.45,1.6,1.8,1.95,2.15,2.3,2.45,2.55,2.7]];
const p18Cyan = [[0.6,0.45,0.6,0.75,0.9,1.1,1.3,1.5,1.75,1.95,2.15,2.35,2.55,2.75,2.9,3.0,3.1],[0.55,0.45,0.55,0.7,0.85,1.05,1.25,1.5,1.7,1.9,2.1,2.3,2.5,2.7,2.85,2.95,3.05],[0.65,0.5,0.6,0.75,0.95,1.1,1.3,1.55,1.8,2.0,2.2,2.4,2.6,2.75,2.9,3.0,3.05]];

// panel order: [green, red, orange, cyan]
const panelSeries = [
  [p01Green, p01Red, p01Orange, p01Cyan], [p02Green, p02Red, p02Orange, p02Cyan],
  [p03Green, p03Red, p03Orange, p03Cyan], [p04Green, p04Red, p04Orange, p04Cyan],
  [p05Green, p05Red, p05Orange, p05Cyan], [p06Green, p06Red, p06Orange, p06Cyan],
  [p07Green, p07Red, p07Orange, p07Cyan], [p08Green, p08Red, p08Orange, p08Cyan],
  [p09Green, p09Red, p09Orange, p09Cyan], [p10Green, p10Red, p10Orange, p10Cyan],
  [p11Green, p11Red, p11Orange, p11Cyan], [p12Green, p12Red, p12Orange, p12Cyan],
  [p13Green, p13Red, p13Orange, p13Cyan], [p14Green, p14Red, p14Orange, p14Cyan],
  [p15Green, p15Red, p15Orange, p15Cyan], [p16Green, p16Red, p16Orange, p16Cyan],
  [p17Green, p17Red, p17Orange, p17Cyan], [p18Green, p18Red, p18Orange, p18Cyan],
];

const FONT = '"Liberation Sans", Arial, sans-serif';
const colLeft = [29, 142, 254, 367, 480, 593];
const rowTop = [2, 209, 415];
const PLOT_W = 106;
const PLOT_H = 156;
const STRIP_H = 21;
const Y_AXIS_W = 29;
const X_AXIS_H = 20;

const panelBorder = {
  id: 'panelBorder',
  afterDraw(chart: Chart) {
    const { left, top, right, bottom } = chart.chartArea;
    const ctx = chart.ctx;
    ctx.save();
    ctx.strokeStyle = '#1a1a1a';
    ctx.lineWidth = 1.2;
    ctx.strokeRect(left + 0.6, top + 0.6, right - left - 1.2, bottom - top - 1.2);
    ctx.restore();
  },
};

function Panel({ index }: { index: number }) {
  const canvasRef = useRef<HTMLCanvasElement>(null);
  const row = Math.floor(index / 6);
  const col = index % 6;
  const showY = col === 0;
  const showX = row === 2;
  const width = PLOT_W + (showY ? Y_AXIS_W : 0);
  const height = PLOT_H + (showX ? X_AXIS_H : 0);

  useEffect(() => {
    if (!canvasRef.current) return;
    const datasets: any[] = [];

    datasets.push({
      data: mediaDays.map((d, i) => ({ x: d, y: mediaValues[i] })),
      borderColor: cultureColors[4],
      borderWidth: 1,
      pointRadius: 3.4,
      pointBorderWidth: 0,
      pointBackgroundColor: cultureColors[4],
    });

    // draw order: green, orange, cyan, red
    [0, 2, 3, 1].forEach((c) => {
      panelSeries[index][c].forEach((rep, k) => {
        datasets.push({
          data: days.map((d, i) => ({ x: d, y: rep[i] })),
          borderColor: k === 0 ? cultureDark[c] : cultureColors[c],
          borderWidth: k === 0 ? 1.7 : 1,
          pointRadius: 3.2,
          pointBorderWidth: 1,
          pointBorderColor: cultureColors[c],
          pointBackgroundColor: 'rgba(255,255,255,0)',
        });
      });
    });

    const axisCommon = {
      grid: { drawOnChartArea: false, drawTicks: true, tickLength: 3, color: '#333333', lineWidth: 1 },
      border: { display: false },
      ticks: { color: '#4D4D4D', font: { size: 9, family: FONT }, padding: 2, autoSkip: false, maxRotation: 0 },
    };

    const chart = new Chart(canvasRef.current, {
      type: 'line',
      data: { datasets },
      options: {
        animation: false,
        responsive: false,
        events: [],
        layout: { padding: 0 },
        plugins: { legend: { display: false }, tooltip: { enabled: false } },
        scales: {
          x: {
            type: 'linear',
            min: -0.8,
            max: 16.8,
            display: showX,
            ...axisCommon,
            afterBuildTicks: (s: any) => { s.ticks = tickDays.map((v) => ({ value: v })); },
            afterFit: (s: any) => { s.height = showX ? X_AXIS_H : 0; },
          },
          y: {
            type: 'linear',
            min: -0.17,
            max: 3.17,
            display: showY,
            ...axisCommon,
            afterBuildTicks: (s: any) => { s.ticks = tickLogs.map((v) => ({ value: v })); },
            afterFit: (s: any) => { s.width = showY ? Y_AXIS_W : 0; },
          },
        },
      } as any,
      plugins: [panelBorder],
    });
    return () => chart.destroy();
  }, [index]);

  const plotTop = rowTop[row] + 2 * STRIP_H;
  const stripStyle = {
    position: 'absolute' as const,
    left: colLeft[col],
    width: PLOT_W,
    height: STRIP_H,
    boxSizing: 'border-box' as const,
    border: '1px solid #333333',
    background: '#F0F0F0',
    color: '#1A1A1A',
    fontSize: 11,
    lineHeight: `${STRIP_H - 2}px`,
    textAlign: 'center' as const,
    whiteSpace: 'pre' as const,
  };

  return (
    <>
      <div style={{ ...stripStyle, top: rowTop[row] }}>{`${phosphorus[index]} µg/l  P`}</div>
      <div style={{ ...stripStyle, top: rowTop[row] + STRIP_H }}>{treatment[index % 2]}</div>
      <canvas
        ref={canvasRef}
        width={width}
        height={height}
        style={{ position: 'absolute', left: colLeft[col] - (showY ? Y_AXIS_W : 0), top: plotTop, width, height }}
      />
    </>
  );
}

function LegendKey({ color }: { color: string }) {
  return (
    <svg width="20" height="10" style={{ marginRight: 7 }}>
      <line x1="1" y1="5" x2="19" y2="5" stroke={color} strokeWidth="1.2" />
      <circle cx="10" cy="5" r="3" fill="none" stroke={color} strokeWidth="1.1" />
    </svg>
  );
}

export default function App() {
  return (
    <div style={{ position: 'absolute', left: 0, top: 0, width: 700, height: 669, background: '#FFFFFF', fontFamily: FONT, overflow: 'hidden' }}>
      {phosphorus.map((_, i) => <Panel key={i} index={i} />)}

      <div style={{ position: 'absolute', left: 9, top: 322, transform: 'translate(-50%, -50%) rotate(-90deg)', whiteSpace: 'pre', fontSize: 12, color: '#1A1A1A' }}>
        log<sub style={{ fontSize: 8, verticalAlign: '-2px' }}>10</sub>{'(phycocyanin  fluorescence)'}
      </div>

      <div style={{ position: 'absolute', left: 0, width: 700, paddingLeft: 29, boxSizing: 'border-box', top: 634, textAlign: 'center', fontSize: 11.5, color: '#1A1A1A' }}>
        Time (day)
      </div>

      <div style={{ position: 'absolute', left: 106, top: 654, height: 16, display: 'flex', alignItems: 'center', color: '#1A1A1A', whiteSpace: 'nowrap' }}>
        <span style={{ fontSize: 12, marginRight: 9 }}>Culture</span>
        {cultures.map((name, i) => (
          <span key={name} style={{ display: 'flex', alignItems: 'center', marginRight: 9 }}>
            <LegendKey color={cultureColors[i]} />
            <span style={{ fontSize: 9.5 }}>
              {i === 0 ? <>PCC 7806 Δ<i>mcyB</i></> : name}
            </span>
          </span>
        ))}
      </div>
    </div>
  );
}
